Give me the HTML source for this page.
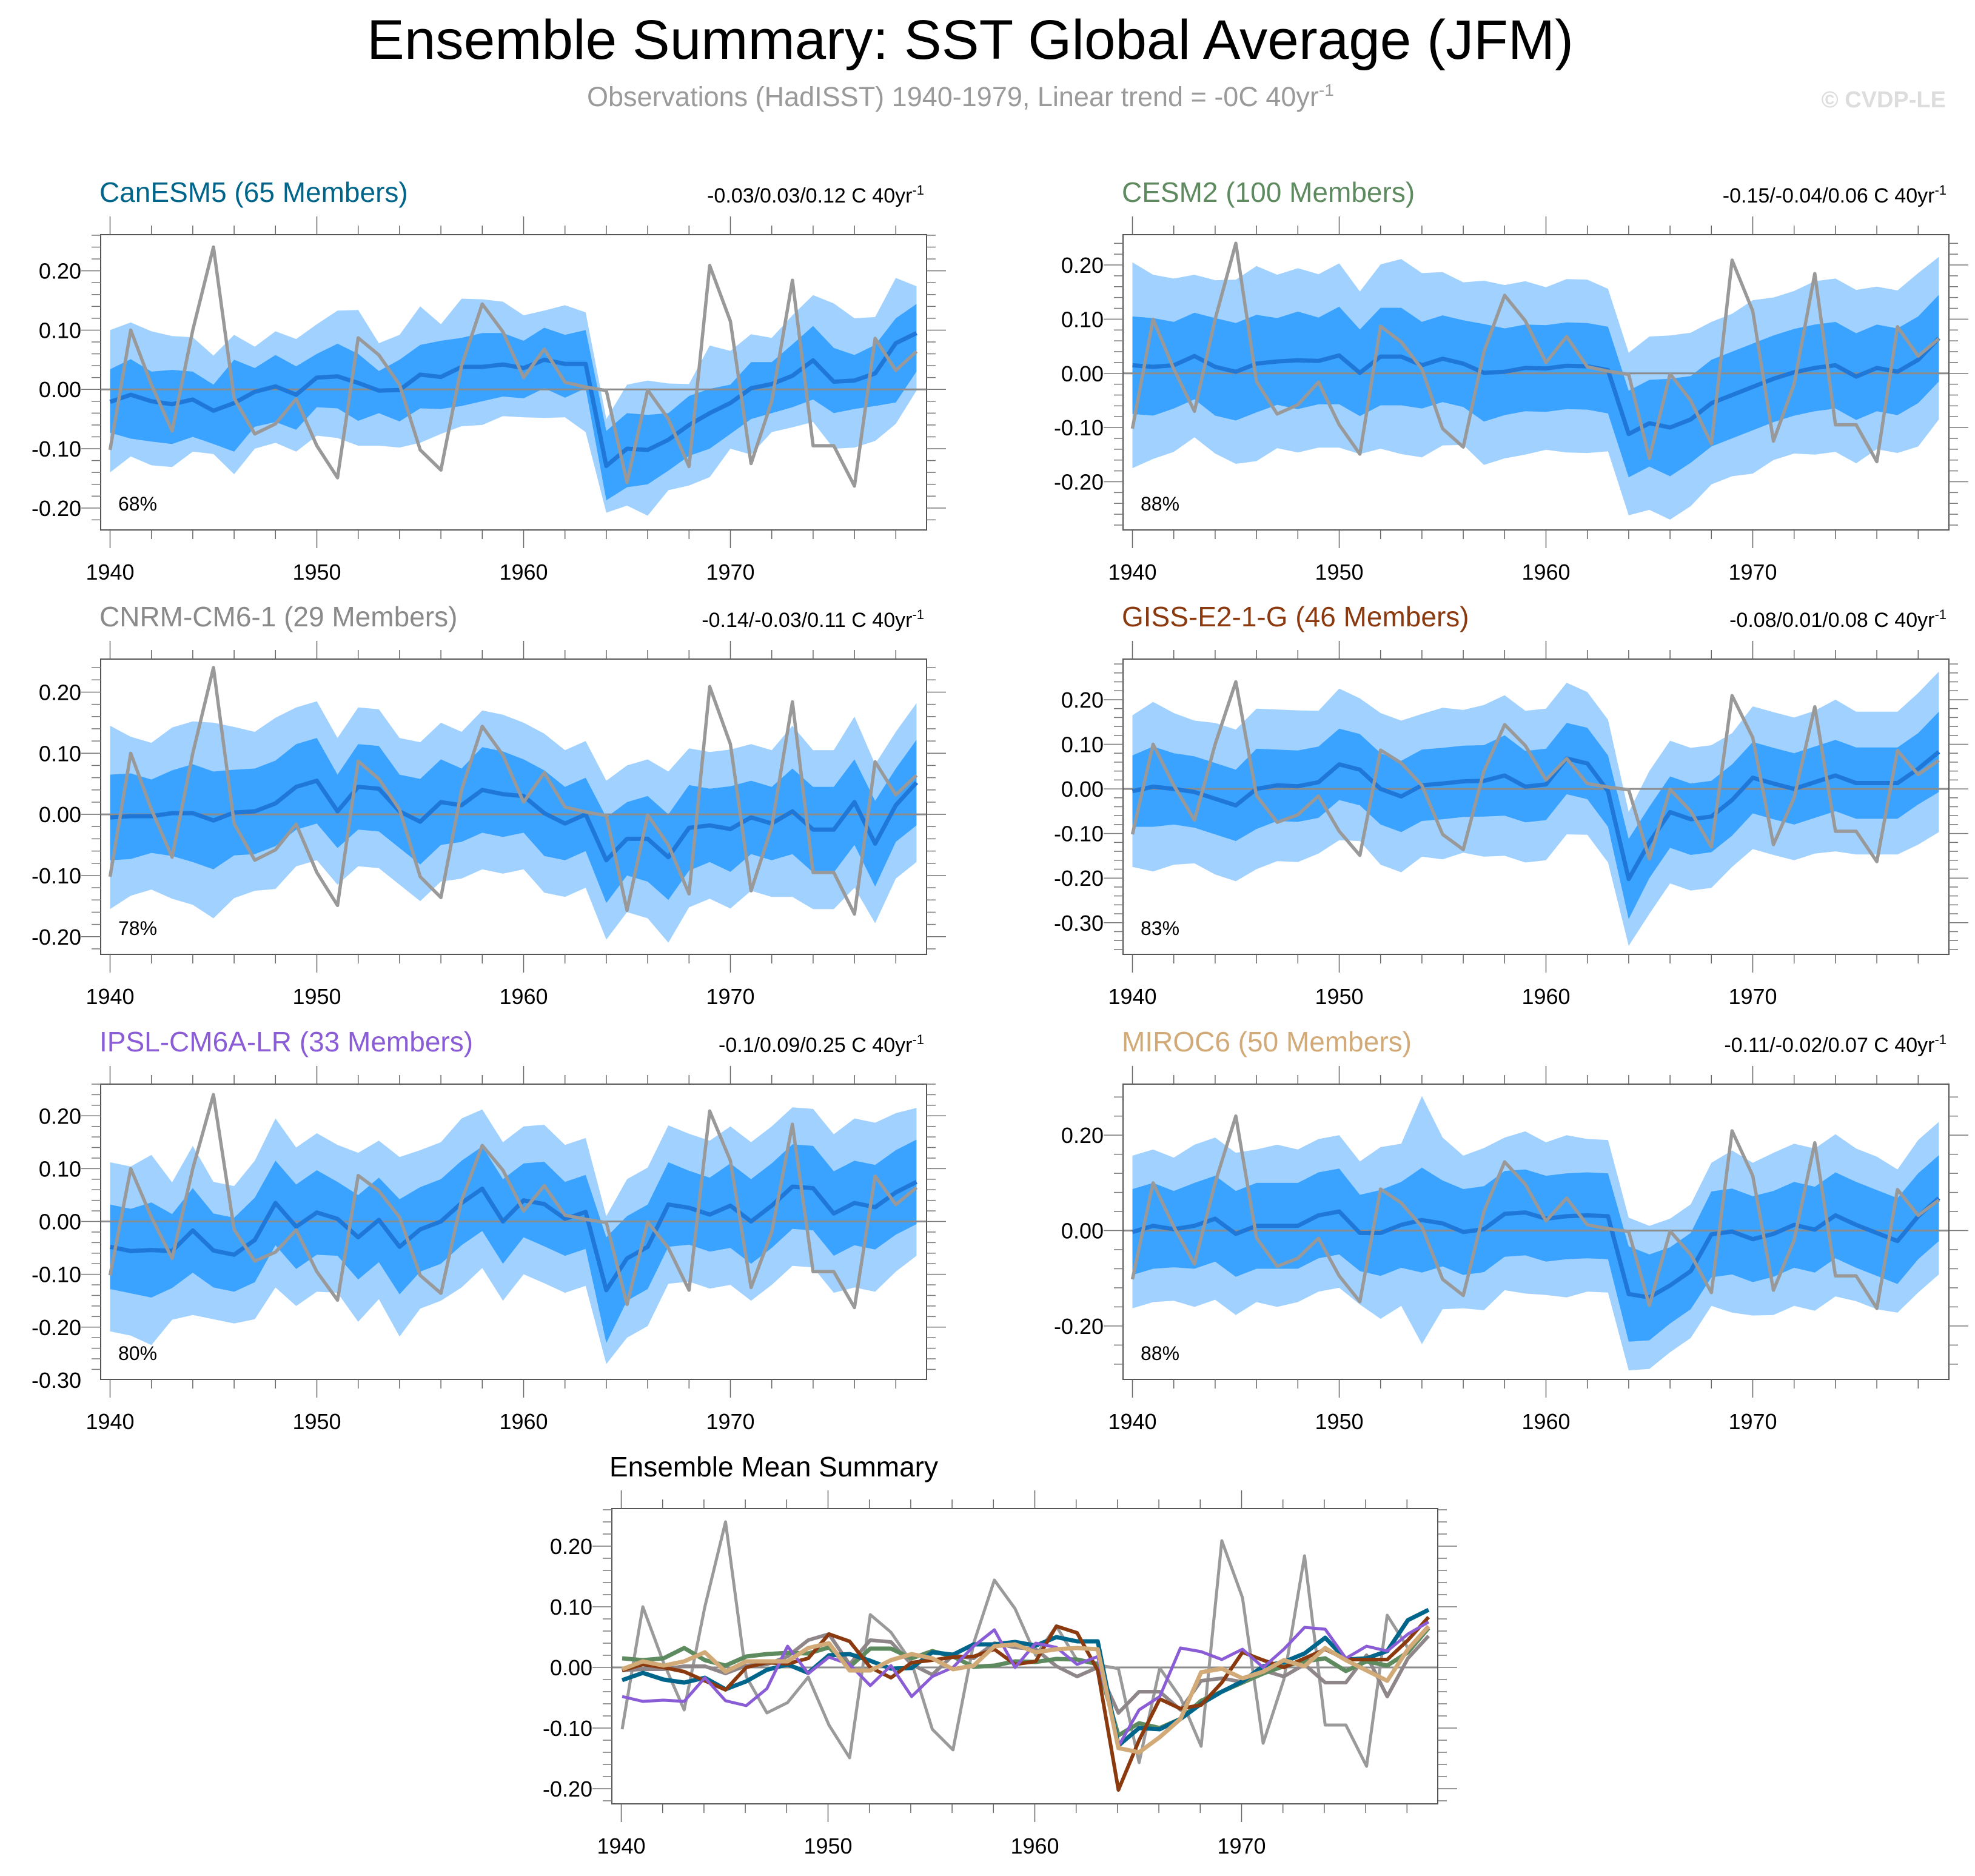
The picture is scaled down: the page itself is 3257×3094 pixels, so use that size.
<!DOCTYPE html>
<html><head><meta charset="utf-8">
<style>
html,body{margin:0;padding:0;background:#fff;}
svg{display:block;font-family:"Liberation Sans",sans-serif;}
</style></head>
<body>
<svg id="chart" width="3257" height="3094" viewBox="0 0 3257 3094" xmlns="http://www.w3.org/2000/svg">
<rect width="3257" height="3094" fill="#fff"/>
<text x="1600" y="97" font-size="92" text-anchor="middle" fill="#000" textLength="1990" lengthAdjust="spacingAndGlyphs">Ensemble Summary: SST Global Average (JFM)</text>
<text x="968" y="175" font-size="45" fill="#9a9a9a">Observations (HadISST) 1940-1979, Linear trend = -0C 40yr<tspan dy="-17" font-size="28">-1</tspan></text>
<text x="3209" y="177" font-size="38" font-weight="bold" text-anchor="end" fill="#dddddd">© CVDP-LE</text>
<g id="panels"></g>
</svg>
<script>
const years = Array.from({length:40},(_,i)=>1940+i);
const obs = [-0.102,0.100,0.008,-0.070,0.100,0.240,-0.015,-0.075,-0.058,-0.016,-0.095,-0.149,0.087,0.058,0.008,-0.102,-0.136,0.040,0.144,0.097,0.020,0.068,0.012,0.004,-0.002,-0.157,-0.001,-0.050,-0.130,0.209,0.115,-0.125,-0.020,0.184,-0.095,-0.095,-0.163,0.086,0.032,0.064];

const canMean = [-0.021,-0.009,-0.020,-0.025,-0.017,-0.036,-0.023,-0.004,0.005,-0.009,0.020,0.022,0.011,-0.002,-0.001,0.025,0.021,0.038,0.038,0.042,0.036,0.050,0.043,0.043,-0.129,-0.100,-0.102,-0.085,-0.060,-0.040,-0.023,0.002,0.009,0.023,0.049,0.013,0.015,0.027,0.078,0.095];
const canLightUp = [0.100,0.113,0.098,0.090,0.088,0.057,0.092,0.072,0.098,0.085,0.110,0.133,0.134,0.078,0.092,0.140,0.110,0.153,0.152,0.148,0.125,0.133,0.142,0.130,-0.050,0.008,0.015,0.010,0.009,0.074,0.065,0.093,0.087,0.125,0.159,0.145,0.120,0.122,0.188,0.174];
const canLightLo = [-0.140,-0.113,-0.128,-0.131,-0.105,-0.109,-0.143,-0.100,-0.090,-0.105,-0.078,-0.082,-0.095,-0.095,-0.098,-0.090,-0.075,-0.062,-0.060,-0.045,-0.047,-0.048,-0.047,-0.072,-0.208,-0.196,-0.213,-0.170,-0.162,-0.148,-0.100,-0.110,-0.072,-0.064,-0.055,-0.100,-0.098,-0.087,-0.058,-0.002];
const canDarkUp = [0.034,0.051,0.030,0.033,0.030,0.008,0.050,0.036,0.058,0.039,0.060,0.077,0.060,0.031,0.050,0.075,0.082,0.087,0.095,0.095,0.082,0.104,0.092,0.100,-0.070,-0.040,-0.043,-0.040,-0.011,0.001,0.008,0.046,0.046,0.076,0.107,0.070,0.058,0.075,0.120,0.144];
const canDarkLo = [-0.073,-0.083,-0.088,-0.092,-0.080,-0.092,-0.105,-0.063,-0.055,-0.068,-0.030,-0.032,-0.053,-0.040,-0.054,-0.032,-0.033,-0.028,-0.020,-0.012,-0.015,0.002,-0.014,0.002,-0.187,-0.165,-0.160,-0.137,-0.112,-0.100,-0.075,-0.050,-0.040,-0.030,-0.017,-0.040,-0.033,-0.028,-0.022,0.030];

const cesmMean = [0.015,0.012,0.015,0.032,0.012,0.003,0.018,0.022,0.024,0.023,0.033,0.001,0.031,0.031,0.015,0.027,0.018,0.001,0.003,0.010,0.009,0.014,0.013,0.006,-0.112,-0.092,-0.100,-0.085,-0.055,-0.040,-0.025,-0.010,0.002,0.010,0.015,-0.006,0.010,0.003,0.025,0.065];
const cesmLightHW = [0.19,0.17,0.16,0.15,0.16,0.17,0.18,0.16,0.17,0.16,0.17,0.15,0.17,0.18,0.17,0.16,0.15,0.17,0.16,0.16,0.15,0.16,0.16,0.15,0.15,0.16,0.17,0.16,0.15,0.15,0.16,0.15,0.15,0.16,0.16,0.16,0.15,0.15,0.16,0.15];
const cesmDarkHW = [0.09,0.09,0.08,0.08,0.09,0.09,0.09,0.08,0.09,0.08,0.09,0.08,0.09,0.09,0.08,0.08,0.08,0.09,0.08,0.08,0.08,0.08,0.08,0.08,0.08,0.08,0.09,0.08,0.08,0.08,0.08,0.08,0.08,0.08,0.08,0.08,0.08,0.08,0.08,0.08];

const cnrmMean = [-0.005,-0.003,-0.003,0.002,0.002,-0.010,0.003,0.005,0.018,0.045,0.055,0.005,0.045,0.042,0.005,-0.012,0.020,0.015,0.040,0.033,0.030,0.002,-0.015,0.000,-0.075,-0.040,-0.040,-0.070,-0.022,-0.018,-0.024,-0.005,-0.015,0.005,-0.025,-0.025,0.020,-0.048,0.015,0.052];
const cnrmLightHW = [0.15,0.13,0.12,0.14,0.15,0.16,0.14,0.13,0.14,0.13,0.13,0.12,0.13,0.13,0.12,0.13,0.13,0.12,0.13,0.13,0.12,0.13,0.12,0.12,0.13,0.12,0.13,0.14,0.13,0.12,0.13,0.12,0.12,0.14,0.13,0.13,0.14,0.13,0.12,0.13];
const cnrmDarkHW = [0.07,0.07,0.06,0.07,0.08,0.08,0.07,0.07,0.07,0.07,0.07,0.06,0.07,0.07,0.06,0.07,0.07,0.06,0.07,0.07,0.06,0.07,0.06,0.06,0.07,0.06,0.07,0.07,0.07,0.06,0.07,0.06,0.06,0.07,0.07,0.07,0.07,0.07,0.06,0.07];

const gissMean = [-0.005,0.005,0.000,-0.007,-0.022,-0.037,0.000,0.008,0.006,0.015,0.055,0.043,0.000,-0.017,0.008,0.012,0.017,0.018,0.030,0.005,0.010,0.068,0.057,-0.005,-0.202,-0.120,-0.052,-0.068,-0.062,-0.025,0.025,0.012,0.000,0.015,0.030,0.013,0.013,0.013,0.045,0.083];
const gissLightHW = [0.17,0.19,0.17,0.16,0.17,0.17,0.18,0.17,0.17,0.16,0.17,0.16,0.17,0.17,0.16,0.17,0.16,0.17,0.18,0.17,0.17,0.17,0.16,0.16,0.15,0.16,0.16,0.16,0.16,0.15,0.16,0.16,0.16,0.16,0.17,0.16,0.16,0.16,0.17,0.18];
const gissDarkHW = [0.08,0.09,0.08,0.08,0.08,0.08,0.09,0.08,0.08,0.08,0.08,0.08,0.08,0.08,0.08,0.08,0.08,0.08,0.09,0.08,0.08,0.08,0.08,0.08,0.09,0.08,0.08,0.08,0.08,0.08,0.08,0.08,0.08,0.08,0.08,0.08,0.08,0.08,0.08,0.09];

const ipslMean = [-0.048,-0.056,-0.054,-0.056,-0.017,-0.055,-0.063,-0.035,0.035,-0.010,0.017,0.005,-0.030,0.003,-0.048,-0.015,0.000,0.035,0.062,0.000,0.040,0.033,0.005,0.018,-0.130,-0.070,-0.048,0.032,0.026,0.013,0.030,0.000,0.030,0.066,0.063,0.015,0.035,0.027,0.055,0.075];
const ipslLightHW = [0.16,0.16,0.18,0.13,0.16,0.13,0.13,0.15,0.16,0.15,0.15,0.14,0.16,0.15,0.17,0.15,0.15,0.16,0.15,0.15,0.14,0.15,0.14,0.14,0.14,0.15,0.15,0.15,0.14,0.14,0.15,0.15,0.15,0.15,0.15,0.15,0.16,0.16,0.15,0.14];
const ipslDarkHW = [0.08,0.08,0.09,0.07,0.08,0.07,0.07,0.08,0.08,0.08,0.08,0.07,0.08,0.08,0.09,0.08,0.08,0.08,0.08,0.08,0.07,0.08,0.07,0.07,0.1,0.08,0.08,0.08,0.07,0.07,0.08,0.08,0.08,0.08,0.08,0.08,0.08,0.08,0.08,0.08];

const mirocMean = [-0.003,0.010,0.003,0.010,0.025,-0.007,0.010,0.010,0.010,0.032,0.040,-0.005,-0.005,0.012,0.022,0.015,-0.003,0.003,0.035,0.038,0.025,0.030,0.032,0.030,-0.133,-0.140,-0.115,-0.085,-0.008,-0.002,-0.018,-0.007,0.012,0.002,0.032,0.012,-0.005,-0.022,0.030,0.068];
const mirocLightHW = [0.16,0.16,0.15,0.17,0.17,0.17,0.16,0.17,0.16,0.16,0.16,0.15,0.18,0.17,0.26,0.18,0.16,0.17,0.16,0.17,0.16,0.17,0.16,0.16,0.16,0.15,0.14,0.14,0.15,0.17,0.16,0.17,0.17,0.17,0.17,0.16,0.16,0.15,0.16,0.16];
const mirocDarkHW = [0.09,0.09,0.08,0.09,0.09,0.09,0.09,0.09,0.09,0.09,0.09,0.08,0.09,0.09,0.11,0.09,0.09,0.09,0.09,0.09,0.09,0.09,0.09,0.09,0.1,0.09,0.08,0.08,0.09,0.09,0.09,0.09,0.09,0.09,0.09,0.09,0.09,0.09,0.09,0.09];

const NS = "http://www.w3.org/2000/svg";
const root = document.getElementById('panels');
function el(tag, attrs, parent){const e=document.createElementNS(NS,tag);for(const k in attrs)e.setAttribute(k,attrs[k]);(parent||root).appendChild(e);return e;}

function lo(m,h){return m.map((v,i)=>v-h[i]);}
function up(m,h){return m.map((v,i)=>v+h[i]);}

const panels = [
 {key:'canesm5',title:'CanESM5 (65 Members)',color:'#00658a',trend:'-0.03/0.03/0.12 C 40yr',pct:'68%',bx:166,by:387,ymin:-0.237,ymax:0.261,labels:[0.2,0.1,0,-0.1,-0.2],minor:0.02,mean:canMean,lu:canLightUp,ll:canLightLo,du:canDarkUp,dl:canDarkLo},
 {key:'cesm2',title:'CESM2 (100 Members)',color:'#5e8a60',trend:'-0.15/-0.04/0.06 C 40yr',pct:'88%',bx:1852,by:387,ymin:-0.289,ymax:0.256,labels:[0.2,0.1,0,-0.1,-0.2],minor:0.02,mean:cesmMean,lu:up(cesmMean,cesmLightHW),ll:lo(cesmMean,cesmLightHW),du:up(cesmMean,cesmDarkHW),dl:lo(cesmMean,cesmDarkHW)},
 {key:'cnrm-cm6-1',title:'CNRM-CM6-1 (29 Members)',color:'#8a8a8a',trend:'-0.14/-0.03/0.11 C 40yr',pct:'78%',bx:166,by:1087,ymin:-0.229,ymax:0.254,labels:[0.2,0.1,0,-0.1,-0.2],minor:0.02,mean:cnrmMean,lu:up(cnrmMean,cnrmLightHW),ll:lo(cnrmMean,cnrmLightHW),du:up(cnrmMean,cnrmDarkHW),dl:lo(cnrmMean,cnrmDarkHW)},
 {key:'giss-e2-1-g',title:'GISS-E2-1-G (46 Members)',color:'#8b3a0f',trend:'-0.08/0.01/0.08 C 40yr',pct:'83%',bx:1852,by:1087,ymin:-0.371,ymax:0.291,labels:[0.2,0.1,0,-0.1,-0.2,-0.3],minor:0.02,mean:gissMean,lu:up(gissMean,gissLightHW),ll:lo(gissMean,gissLightHW),du:up(gissMean,gissDarkHW),dl:lo(gissMean,gissDarkHW)},
 {key:'ipsl-cm6a-lr',title:'IPSL-CM6A-LR (33 Members)',color:'#8a5cd6',trend:'-0.1/0.09/0.25 C 40yr',pct:'80%',bx:166,by:1788,ymin:-0.299,ymax:0.26,labels:[0.2,0.1,0,-0.1,-0.2,-0.3],minor:0.02,mean:ipslMean,lu:up(ipslMean,ipslLightHW),ll:lo(ipslMean,ipslLightHW),du:up(ipslMean,ipslDarkHW),dl:lo(ipslMean,ipslDarkHW)},
 {key:'miroc6',title:'MIROC6 (50 Members)',color:'#d2aa78',trend:'-0.11/-0.02/0.07 C 40yr',pct:'88%',bx:1852,by:1788,ymin:-0.312,ymax:0.307,labels:[0.2,0,-0.2],minor:0.04,mean:mirocMean,lu:up(mirocMean,mirocLightHW),ll:lo(mirocMean,mirocLightHW),du:up(mirocMean,mirocDarkHW),dl:lo(mirocMean,mirocDarkHW)}
];

const BW=1362, BH=487;

function axes(g,bx,by,ymin,ymax,labels,minor){
  const X=yr=>bx+15.5+(yr-1940)*34.1;
  const Y=v=>by+(ymax-v)/(ymax-ymin)*BH;
  const z=el('line',{x1:bx,x2:bx+BW,y1:Y(0),y2:Y(0),stroke:'#8c8c8c','stroke-width':3},g);
  
  
  const bl=el('rect',{x:bx,y:by,width:BW,height:BH,fill:'none',stroke:'#555','stroke-width':2},g);
  
  
  for(let yr=1940;yr<=1979;yr+=2){
    const major=(yr%10===0), L=major?30:15, x=X(yr);
    el('line',{x1:x,x2:x,y1:by,y2:by-L,stroke:'#666','stroke-width':1.5},g);
    el('line',{x1:x,x2:x,y1:by+BH,y2:by+BH+L,stroke:'#666','stroke-width':1.5},g);
    if(major){
      const t=el('text',{x:x,y:by+BH+82,'font-size':36,'text-anchor':'middle',fill:'#000'},g);
      t.textContent=yr;
      
      
    }
  }
  const start=Math.ceil(ymin/minor-1e-6), end=Math.floor(ymax/minor+1e-6);
  for(let k=start;k<=end;k++){
    const v=k*minor, y=Y(v);
    const isMaj=labels.some(l=>Math.abs(l-v)<1e-6);
    const L=isMaj?32:15;
    el('line',{x1:bx,x2:bx-L,y1:y,y2:y,stroke:'#777','stroke-width':1.5},g);
    el('line',{x1:bx+BW,x2:bx+BW+L,y1:y,y2:y,stroke:'#777','stroke-width':1.5},g);
  }
  labels.forEach(v=>{
    const t=el('text',{x:bx-32,y:Y(v)+13,'font-size':36,'text-anchor':'end',fill:'#000'},g);
    t.textContent=v.toFixed(2);
    
    
  });
  return {X,Y};
}
function poly(vals,X,Y){return vals.map((v,i)=>X(years[i]).toFixed(1)+','+Y(v).toFixed(1)).join(' ');}
function band(upv,lov,X,Y){return poly(upv,X,Y)+' '+lov.map((v,i)=>[i,v]).reverse().map(([i,v])=>X(years[i]).toFixed(1)+','+Y(v).toFixed(1)).join(' ');}

panels.forEach(p=>{
  const g=el('g',{});
  
  
  const ty=p.by-69;
  const tt=el('text',{x:p.bx-2,y:ty+15,'font-size':46,fill:p.color},g);
  tt.textContent=p.title;
  
  
  const tr=el('text',{x:p.bx+1358,y:ty+16,'font-size':34,'text-anchor':'end',fill:'#000'},g);
  tr.innerHTML=p.trend+'<tspan dy="-13" font-size="22">-1</tspan>';
  
  
  const cp=el('clipPath',{id:'clip-'+p.key},g);
  el('rect',{x:p.bx,y:p.by,width:BW,height:BH},cp);
  const X=yr=>p.bx+15.5+(yr-1940)*34.1;
  const Y=v=>p.by+(p.ymax-v)/(p.ymax-p.ymin)*BH;
  const d=el('g',{'clip-path':'url(#clip-'+p.key+')'},g);
  const b1=el('polygon',{points:band(p.lu,p.ll,X,Y),fill:'#a1d1ff'},d);
  
  
  const b2=el('polygon',{points:band(p.du,p.dl,X,Y),fill:'#3aa2ff'},d);
  
  
  axes(g,p.bx,p.by,p.ymin,p.ymax,p.labels,p.minor);
  const ml=el('polyline',{points:poly(p.mean,X,Y),fill:'none',stroke:'#1f78d8','stroke-width':7,'stroke-linejoin':'round'},g);
  
  
  const ol=el('polyline',{points:poly(obs,X,Y),fill:'none',stroke:'#999','stroke-width':5.5,'stroke-linejoin':'round'},g);
  
  
  const pc=el('text',{x:p.bx+29,y:p.by+455,'font-size':32,fill:'#000'},g);
  pc.textContent=p.pct;
  
  
});

(function(){
  const bx=1009, by=2488, ymin=-0.225, ymax=0.262;
  const g=el('g',{});
  
  
  const t=el('text',{x:1005,y:2435,'font-size':46,fill:'#000'},g);
  t.textContent='Ensemble Mean Summary';
  
  
  const X=yr=>bx+17+(yr-1940)*34.1;
  const Y=v=>by+(ymax-v)/(ymax-ymin)*BH;
  axes(g,bx,by,ymin,ymax,[0.2,0.1,0,-0.1,-0.2],0.02);
  const series=[
    {n:'observations-line',v:obs,c:'#9a9a9a',w:5},
    {n:'cnrm-cm6-1-mean-line',v:cnrmMean,c:'#8e8688',w:6},
    {n:'cesm2-mean-line',v:cesmMean,c:'#5e8a60',w:7},
    {n:'canesm5-mean-line',v:canMean,c:'#00658a',w:7},
    {n:'giss-e2-1-g-mean-line',v:gissMean,c:'#8b3a0f',w:6},
    {n:'ipsl-cm6a-lr-mean-line',v:ipslMean,c:'#8a5cd6',w:5},
    {n:'miroc6-mean-line',v:mirocMean,c:'#d2aa78',w:7}
  ];
  series.forEach(s=>{
    const l=el('polyline',{points:poly(s.v,X,Y),fill:'none',stroke:s.c,'stroke-width':s.w,'stroke-linejoin':'round'},g);
    
    
  });
})();
</script>
</body></html>
